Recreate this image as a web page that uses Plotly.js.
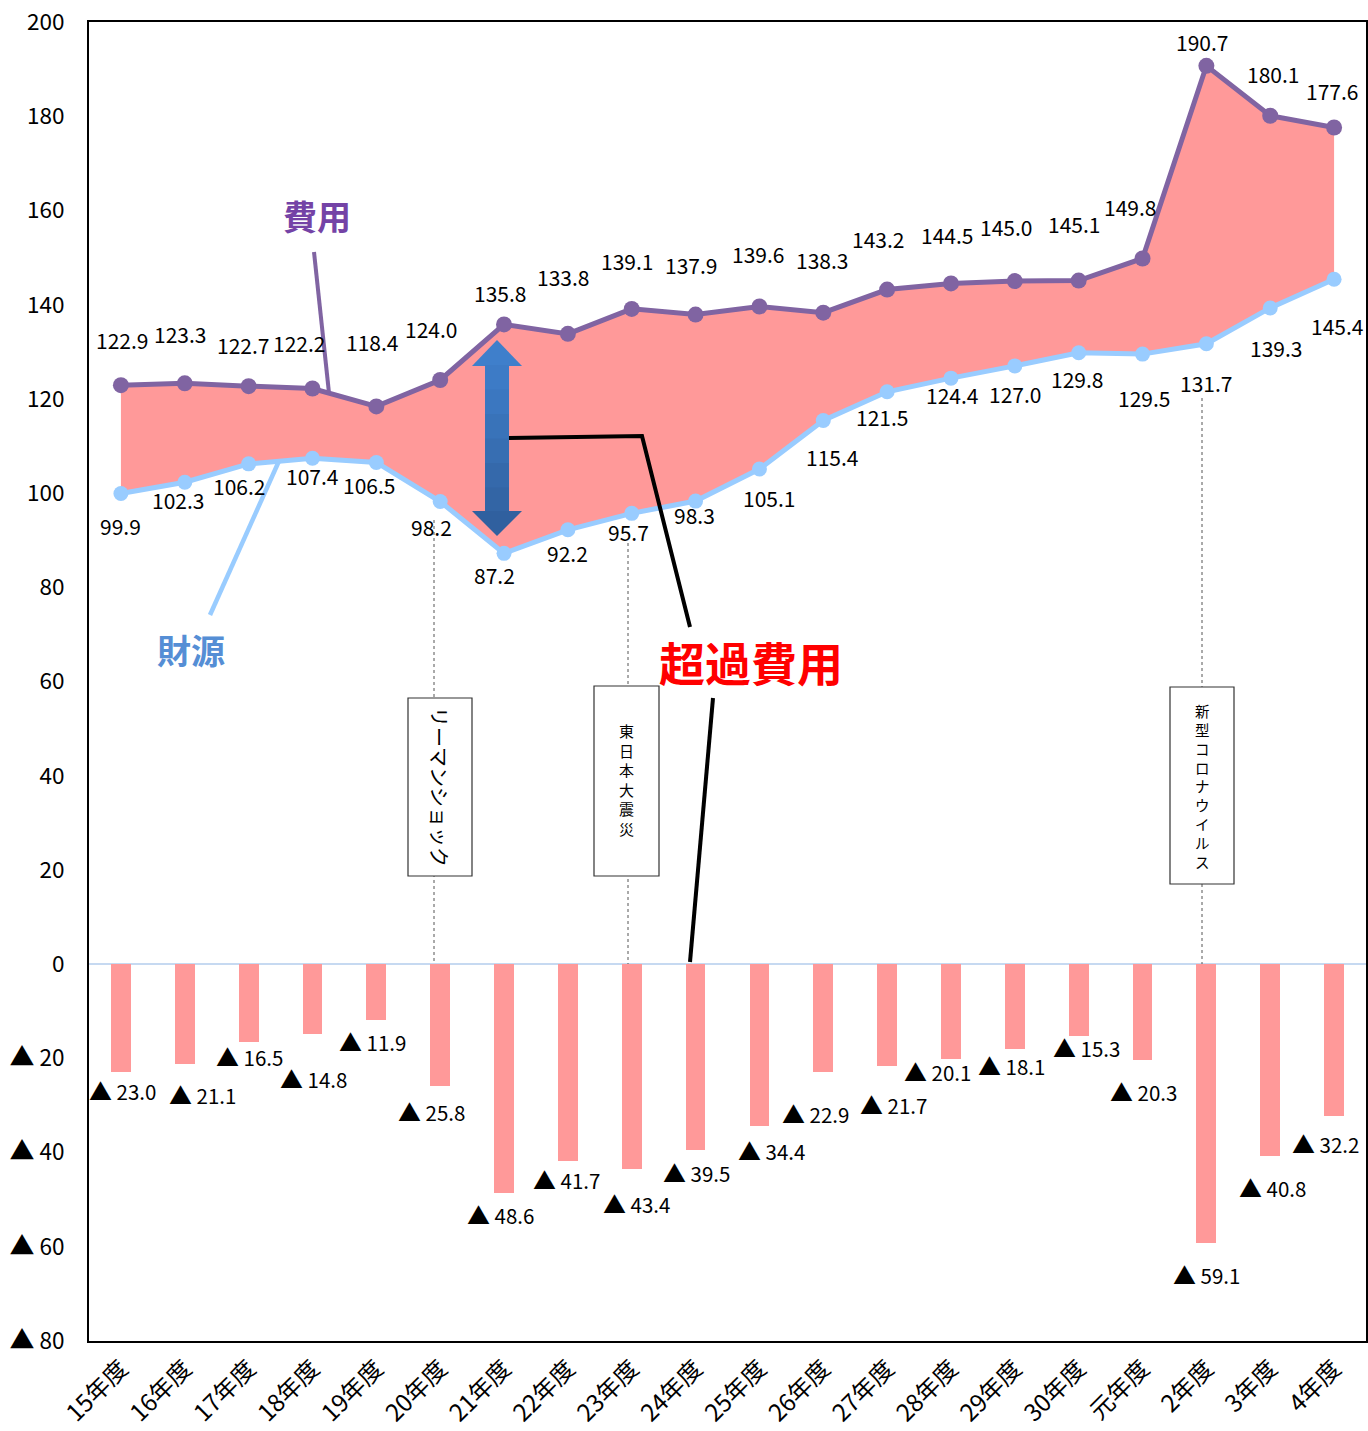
<!DOCTYPE html>
<html><head><meta charset="utf-8">
<script src="https://cdn.plot.ly/plotly-3.0.1.min.js"></script>
<style>html,body{margin:0;padding:0;background:#fff}#chart{width:1368px;height:1431px}</style>
</head><body><div id="chart"></div>
<script>
// ---- data ----
const categories = ['15年度','16年度','17年度','18年度','19年度','20年度','21年度','22年度','23年度','24年度',
  '25年度','26年度','27年度','28年度','29年度','30年度','元年度','2年度','3年度','4年度'];
const expense = [122.9,123.3,122.7,122.2,118.4,124.0,135.8,133.8,139.1,137.9,139.6,138.3,143.2,144.5,145.0,145.1,149.8,190.7,180.1,177.6];
const revenue = [99.9,102.3,106.2,107.4,106.5,98.2,87.2,92.2,95.7,98.3,105.1,115.4,121.5,124.4,127.0,129.8,129.5,131.7,139.3,145.4];
const deficit = [23.0,21.1,16.5,14.8,11.9,25.8,48.6,41.7,43.4,39.5,34.4,22.9,21.7,20.1,18.1,15.3,20.3,59.1,40.8,32.2];
const yTickVals = [-80,-60,-40,-20,0,20,40,60,80,100,120,140,160,180,200];
const yTickNums = ['80','60','40','20','0','20','40','60','80','100','120','140','160','180','200'];
const eventLabels = ['リーマンショック','東日本大震災','新型コロナウイルス'];
const seriesLabels = ['費用','財源','超過費用'];

// ---- label offsets (px: dx right, dy down) ----
const expOff = [[1,-45],[-5,-49],[-6,-41],[-13,-45],[-4,-64],[-9,-51],[-4,-31],[-5,-57],[-5,-48],[-5,-50],
  [-1,-53],[-1,-53],[-9,-51],[-4,-48],[-9,-54],[-5,-57],[-13,-51],[-4,-24],[3,-42],[-2,-37]];
const revOff = [[0,32],[-7,18],[-10,22],[0,18],[-7,23],[-9,25],[-10,22],[0,23],[-3,19],[-1,14],
  [10,29],[9,36],[-5,25],[1,17],[0,28],[-2,26],[1,44],[0,39],[6,40],[3,47]];
const barOff = [[2,18],[18,30],[1,14],[1,44],[-4,21],[-9,25],[-4,21],[-1,18],[5,34],[1,22],
  [12,24],[-8,41],[6,38],[-13,12],[-3,16],[8,11],[1,31],[0,31],[2,31],[-9,27]];

const FONT = '"Noto Sans CJK JP", "Noto Sans", sans-serif';
const W = 1368, H = 1431, M = {l:89, r:2, t:22, b:90};
const PW = W - M.l - M.r, PH = H - M.t - M.b;
const px = x => (x - M.l) / PW;
const py = y => (M.t + PH - y) / PH;

const PINK = '#FF9999', PURPLE = '#8064A2', BLUE = '#99CCFF';
const TRI = '<span style="font-size:23px">▲</span>';
const TRI_T = '<span style="font-size:25px">▲</span>';

const yTickText = yTickVals.map((v, i) => v < 0 ? TRI_T + ' ' + yTickNums[i] : yTickNums[i]);

const traces = [
  {x: categories, y: revenue, type:'scatter', mode:'lines', line:{width:0, color:BLUE}, hoverinfo:'skip', showlegend:false},
  {x: categories, y: expense, type:'scatter', mode:'lines', line:{width:0, color:PURPLE}, fill:'tonexty', fillcolor:PINK, hoverinfo:'skip', showlegend:false},
  {x: categories, y: deficit.map(v => -v), type:'bar', width:0.31, marker:{color:PINK}, showlegend:false},
  {x: categories, y: revenue, type:'scatter', mode:'lines+markers', line:{width:5, color:BLUE}, marker:{size:15, color:BLUE}, showlegend:false},
  {x: categories, y: expense, type:'scatter', mode:'lines+markers', line:{width:5, color:PURPLE}, marker:{size:16, color:PURPLE}, showlegend:false}
];

const ann = [];
const lblFont = {family: FONT, size: 21, color: '#000'};
const barFont = {family: FONT, size: 20.5, color: '#000'};
const base = {showarrow:false, xanchor:'center', yanchor:'middle'};
expense.forEach((v, i) => ann.push(Object.assign({}, base, {x: categories[i], y: v, xref:'x', yref:'y', text: v.toFixed(1),
  xshift: expOff[i][0], yshift: -expOff[i][1], font: lblFont})));
revenue.forEach((v, i) => ann.push(Object.assign({}, base, {x: categories[i], y: v, xref:'x', yref:'y', text: v.toFixed(1),
  xshift: revOff[i][0], yshift: -revOff[i][1], font: lblFont})));
deficit.forEach((v, i) => ann.push(Object.assign({}, base, {x: categories[i], y: -v, xref:'x', yref:'y', text: TRI + ' ' + v.toFixed(1),
  xshift: barOff[i][0], yshift: -barOff[i][1], font: barFont})));

// series call-outs
const P = (x, y, extra) => Object.assign({}, base, {xref:'paper', yref:'paper', x: px(x), y: py(y)}, extra);
ann.push(P(317, 216, {text:'<b>' + seriesLabels[0] + '</b>', font:{family: FONT, size: 34, color:'#7443A6'}}));
ann.push(P(191, 650, {text:'<b>' + seriesLabels[1] + '</b>', font:{family: FONT, size: 34, color:'#558ED5'}}));
ann.push(P(751, 661, {text:'<b>' + seriesLabels[2] + '</b>', font:{family: FONT, size: 46, color:'#FF0000'}}));

// event boxes text
ann.push(P(440, 787, {text: eventLabels[0], textangle: 90, font:{family: FONT, size: 20, color:'#000'}}));
ann.push(P(626, 780, {text: Array.from(eventLabels[1]).join('<br>'), font:{family: FONT, size: 15, color:'#000'}}));
ann.push(P(1202, 786, {text: Array.from(eventLabels[2]).join('<br>'), font:{family: FONT, size: 14.5, color:'#000'}}));

const line = (x0, y0, x1, y1, color, width, dash) => ({type:'line', xref:'paper', yref:'paper',
  x0: px(x0), y0: py(y0), x1: px(x1), y1: py(y1), line:{color, width, dash: dash || 'solid'}});
const rect = (x0, y0, x1, y1) => ({type:'rect', xref:'paper', yref:'paper', x0: px(x0), y0: py(y0), x1: px(x1), y1: py(y1),
  line:{color:'#333', width:1.2}, fillcolor:'#fff'});
const pathOf = pts => 'M' + pts.map(p => px(p[0]).toFixed(5) + ',' + py(p[1]).toFixed(5)).join(' L') + ' Z';
const poly = (pts, color) => ({type:'path', xref:'paper', yref:'paper', path: pathOf(pts), fillcolor: color, line:{width:0}});

// double arrow with stepped vertical shading
const arrowShapes = [];
arrowShapes.push(poly([[497,340],[522,366],[472,366]], '#3F7FCB'));
const shadeCols = ['#3D7BC6','#3B77C0','#3973B9','#376EB2','#3569AB','#3365A5'];
const sTop = 365, sBot = 512, n = shadeCols.length;
shadeCols.forEach((c, k) => {
  const a = sTop + (sBot - sTop) * k / n, b = sTop + (sBot - sTop) * (k + 1) / n + 0.6;
  arrowShapes.push(poly([[485,a],[509,a],[509,b],[485,b]], c));
});
arrowShapes.push(poly([[472,511],[522,511],[497,536]], '#30609F'));

const shapes = [
  line(434, 520, 434, 964, '#555', 1, 'dot'),
  line(628, 543, 628, 964, '#555', 1, 'dot'),
  line(1202, 398, 1202, 964, '#555', 1, 'dot'),
  rect(408, 698, 472, 876),
  rect(594, 686, 659, 876),
  rect(1170, 687, 1234, 884),
  line(314, 252, 329, 393, PURPLE, 4),
  line(210, 615, 279, 461, BLUE, 4.5),
  ...arrowShapes,
  {type:'path', xref:'paper', yref:'paper', path: 'M' + px(509) + ',' + py(438) + ' L' + px(642) + ',' + py(436) + ' L' + px(690) + ',' + py(627),
    line:{color:'#000', width:4}},
  line(713, 698, 690, 962, '#000', 4)
];

const layout = {
  width: W, height: H,
  margin: M,
  paper_bgcolor:'#fff', plot_bgcolor:'#fff',
  showlegend:false,
  bargap: 0,
  font:{family: FONT, color:'#000'},
  xaxis:{type:'category', range:[-0.5, 19.5], showgrid:false, zeroline:false, showline:true, mirror:true,
    linecolor:'#000', linewidth:2, tickangle:-45, ticks:'', tickfont:{family: FONT, size:24, color:'#000'}, ticklabelstandoff: 2},
  yaxis:{range:[-80, 200], tickvals: yTickVals, ticktext: yTickText, showgrid:false, zeroline:true, zerolinecolor:'#C6D9F1',
    zerolinewidth:2, showline:true, mirror:true, linecolor:'#000', linewidth:2, ticks:'', ticklabelstandoff: 18,
    tickfont:{family: FONT, size:22.5, color:'#000'}},
  annotations: ann,
  shapes: shapes
};

Plotly.newPlot('chart', traces, layout, {displayModeBar:false, staticPlot:true});
</script></body></html>
